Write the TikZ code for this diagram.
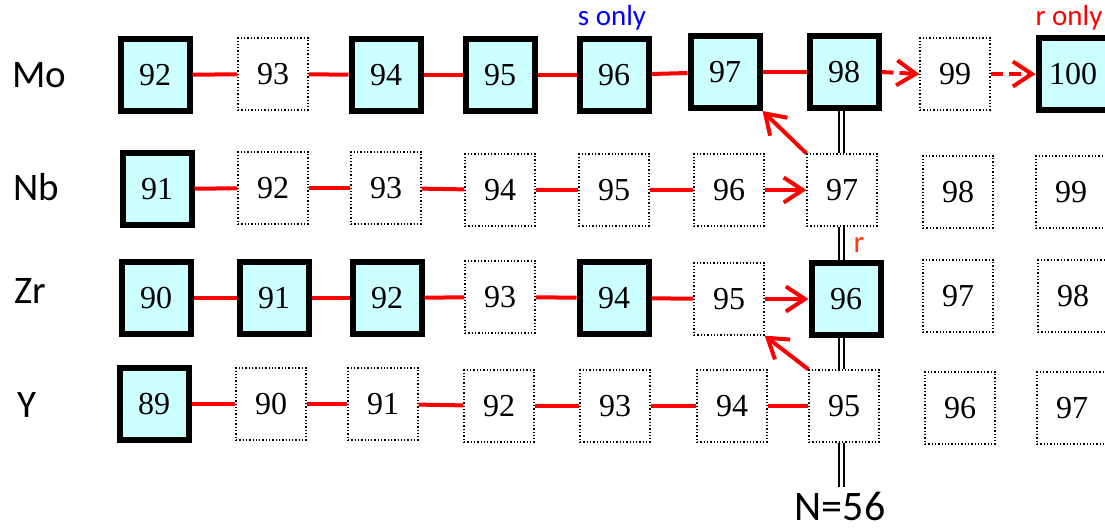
\documentclass[tikz,border=0pt]{standalone}
\usepackage{fontspec}
\setmainfont{Liberation Serif}
\newfontfamily\calfont{Carlito}
\usetikzlibrary{arrows.meta}
\definecolor{stab}{HTML}{CCFFFF}
\definecolor{rorange}{HTML}{FF3A10}
\tikzset{
  stable/.style={draw=black, line width=6pt, fill=stab, minimum width=69pt, minimum height=72pt, inner sep=0pt, font=\fontsize{32}{36}\selectfont},
  unst/.style={draw=black, line width=1.3pt, dotted, minimum width=70pt, minimum height=72pt, inner sep=0pt, font=\fontsize{32}{36}\selectfont},
  elem/.style={font=\calfont\fontsize{39}{42}\selectfont, anchor=center},
  chain/.style={draw=red, line width=4pt},
  barb/.style={-{Straight Barb[length=19pt,width=25pt,line width=4pt]}},
  flow/.style={chain, barb},
  dflow/.style={chain, barb, dash pattern=on 12pt off 6pt},
  magic/.style={draw=black, line width=2pt, double=white, double distance=3pt},
}
\begin{document}
\begin{tikzpicture}[x=1pt,y=-1pt]
\useasboundingbox (0,0) rectangle (1105,531);
% element labels
\node[elem] (lMo) at (39,75.5) {Mo};
\node[elem] (lNb) at (36,187) {Nb};
\node[elem] (lZr) at (30,290.5) {Zr};
\node[elem] (lY) at (27.5,405) {Y};
% Mo row
\node[stable] (mo92) at (155,75) {92};
\node[unst] (mo93) at (273,74) {93};
\node[stable] (mo94) at (386,75) {94};
\node[stable] (mo95) at (500,75) {95};
\node[stable] (mo96) at (614,75) {96};
\node[stable] (mo97) at (725,72) {97};
\node[stable] (mo98) at (844,72) {98};
\node[unst] (mo99) at (955,74) {99};
\node[stable] (mo100) at (1073,74) {100};
% Nb row
\node[stable] (nb91) at (157,189) {91};
\node[unst] (nb92) at (273,188) {92};
\node[unst] (nb93) at (386,188) {93};
\node[unst] (nb94) at (500,190) {94};
\node[unst] (nb95) at (614,190) {95};
\node[unst] (nb96) at (729,190) {96};
\node[unst] (nb97) at (842,190) {97};
\node[unst] (nb98) at (958,192) {98};
\node[unst] (nb99) at (1071,192) {99};
% Zr row
\node[stable] (zr90) at (156,298) {90};
\node[stable] (zr91) at (274,298) {91};
\node[stable] (zr92) at (387,298) {92};
\node[unst] (zr93) at (500,297) {93};
\node[stable] (zr94) at (614,298) {94};
\node[unst] (zr95) at (729,299) {95};
\node[stable] (zr96) at (846,299) {96};
\node[unst] (zr97) at (958,296) {97};
\node[unst] (zr98) at (1073,296) {98};
% Y row
\node[stable] (y89) at (154,404) {89};
\node[unst] (y90) at (271,404) {90};
\node[unst] (y91) at (383,404) {91};
\node[unst] (y92) at (499,406) {92};
\node[unst] (y93) at (615,406) {93};
\node[unst] (y94) at (732,406) {94};
\node[unst] (y95) at (844,406) {95};
\node[unst] (y96) at (960,408) {96};
\node[unst] (y97) at (1072,408) {97};
% Mo chain
\draw[chain] (mo92) -- (mo93);
\draw[chain] (mo93) -- (mo94);
\draw[chain] (mo94) -- (mo95);
\draw[chain] (mo95) -- (mo96);
\draw[chain] (mo96) -- (mo97);
\draw[chain] (mo97.east) -- (mo98.west);
\draw[dflow] (mo98.east) -- (mo99.west);
\draw[dflow] (mo99.east) -- (mo100.west);
% Nb chain
\draw[chain] (nb91) -- (nb92);
\draw[chain] (nb92) -- (nb93);
\draw[chain] (nb93) -- (nb94);
\draw[chain] (nb94) -- (nb95);
\draw[chain] (nb95) -- (nb96);
\draw[flow] (nb96.east) -- (nb97.west);
\draw[flow] (nb97.north west) -- (mo97.south east);
% Zr chain
\draw[chain] (zr90) -- (zr91);
\draw[chain] (zr91) -- (zr92);
\draw[chain] (zr92) -- (zr93);
\draw[chain] (zr93) -- (zr94);
\draw[chain] (zr94) -- (zr95);
\draw[flow] (zr95.east) -- (zr96.west);
% Y chain
\draw[chain] (y89) -- (y90);
\draw[chain] (y90) -- (y91);
\draw[chain] (y91) -- (y92);
\draw[chain] (y92) -- (y93);
\draw[chain] (y93) -- (y94);
\draw[chain] (y94) -- (y95);
\draw[flow] (y95.north west) -- (zr95.south east);
% N=56 magic line
\coordinate (nx) at (841,0);
\coordinate (nend) at (841,487);
\draw[magic] (mo98.south -| nx) -- (nb97.north -| nx);
\draw[magic] (nb97.south -| nx) -- (zr96.north -| nx);
\draw[magic] (zr96.south -| nx) -- (y95.north -| nx);
\draw[magic] (y95.south -| nx) -- (nend);
\node[font=\calfont\fontsize{42}{45}\selectfont, inner sep=0pt] (nlab) at (840,506) {N=56};
% labels
\node[font=\calfont\fontsize{29}{32}\selectfont, text=blue] (sonly) at (612,18) {s only};
\node[font=\calfont\fontsize{29}{32}\selectfont, text=red] (ronly) at (1069,18) {r only};
\node[font=\calfont\fontsize{31}{34}\selectfont, text=rorange] (rlab) at (859,244.5) {r};
\end{tikzpicture}
\end{document}
